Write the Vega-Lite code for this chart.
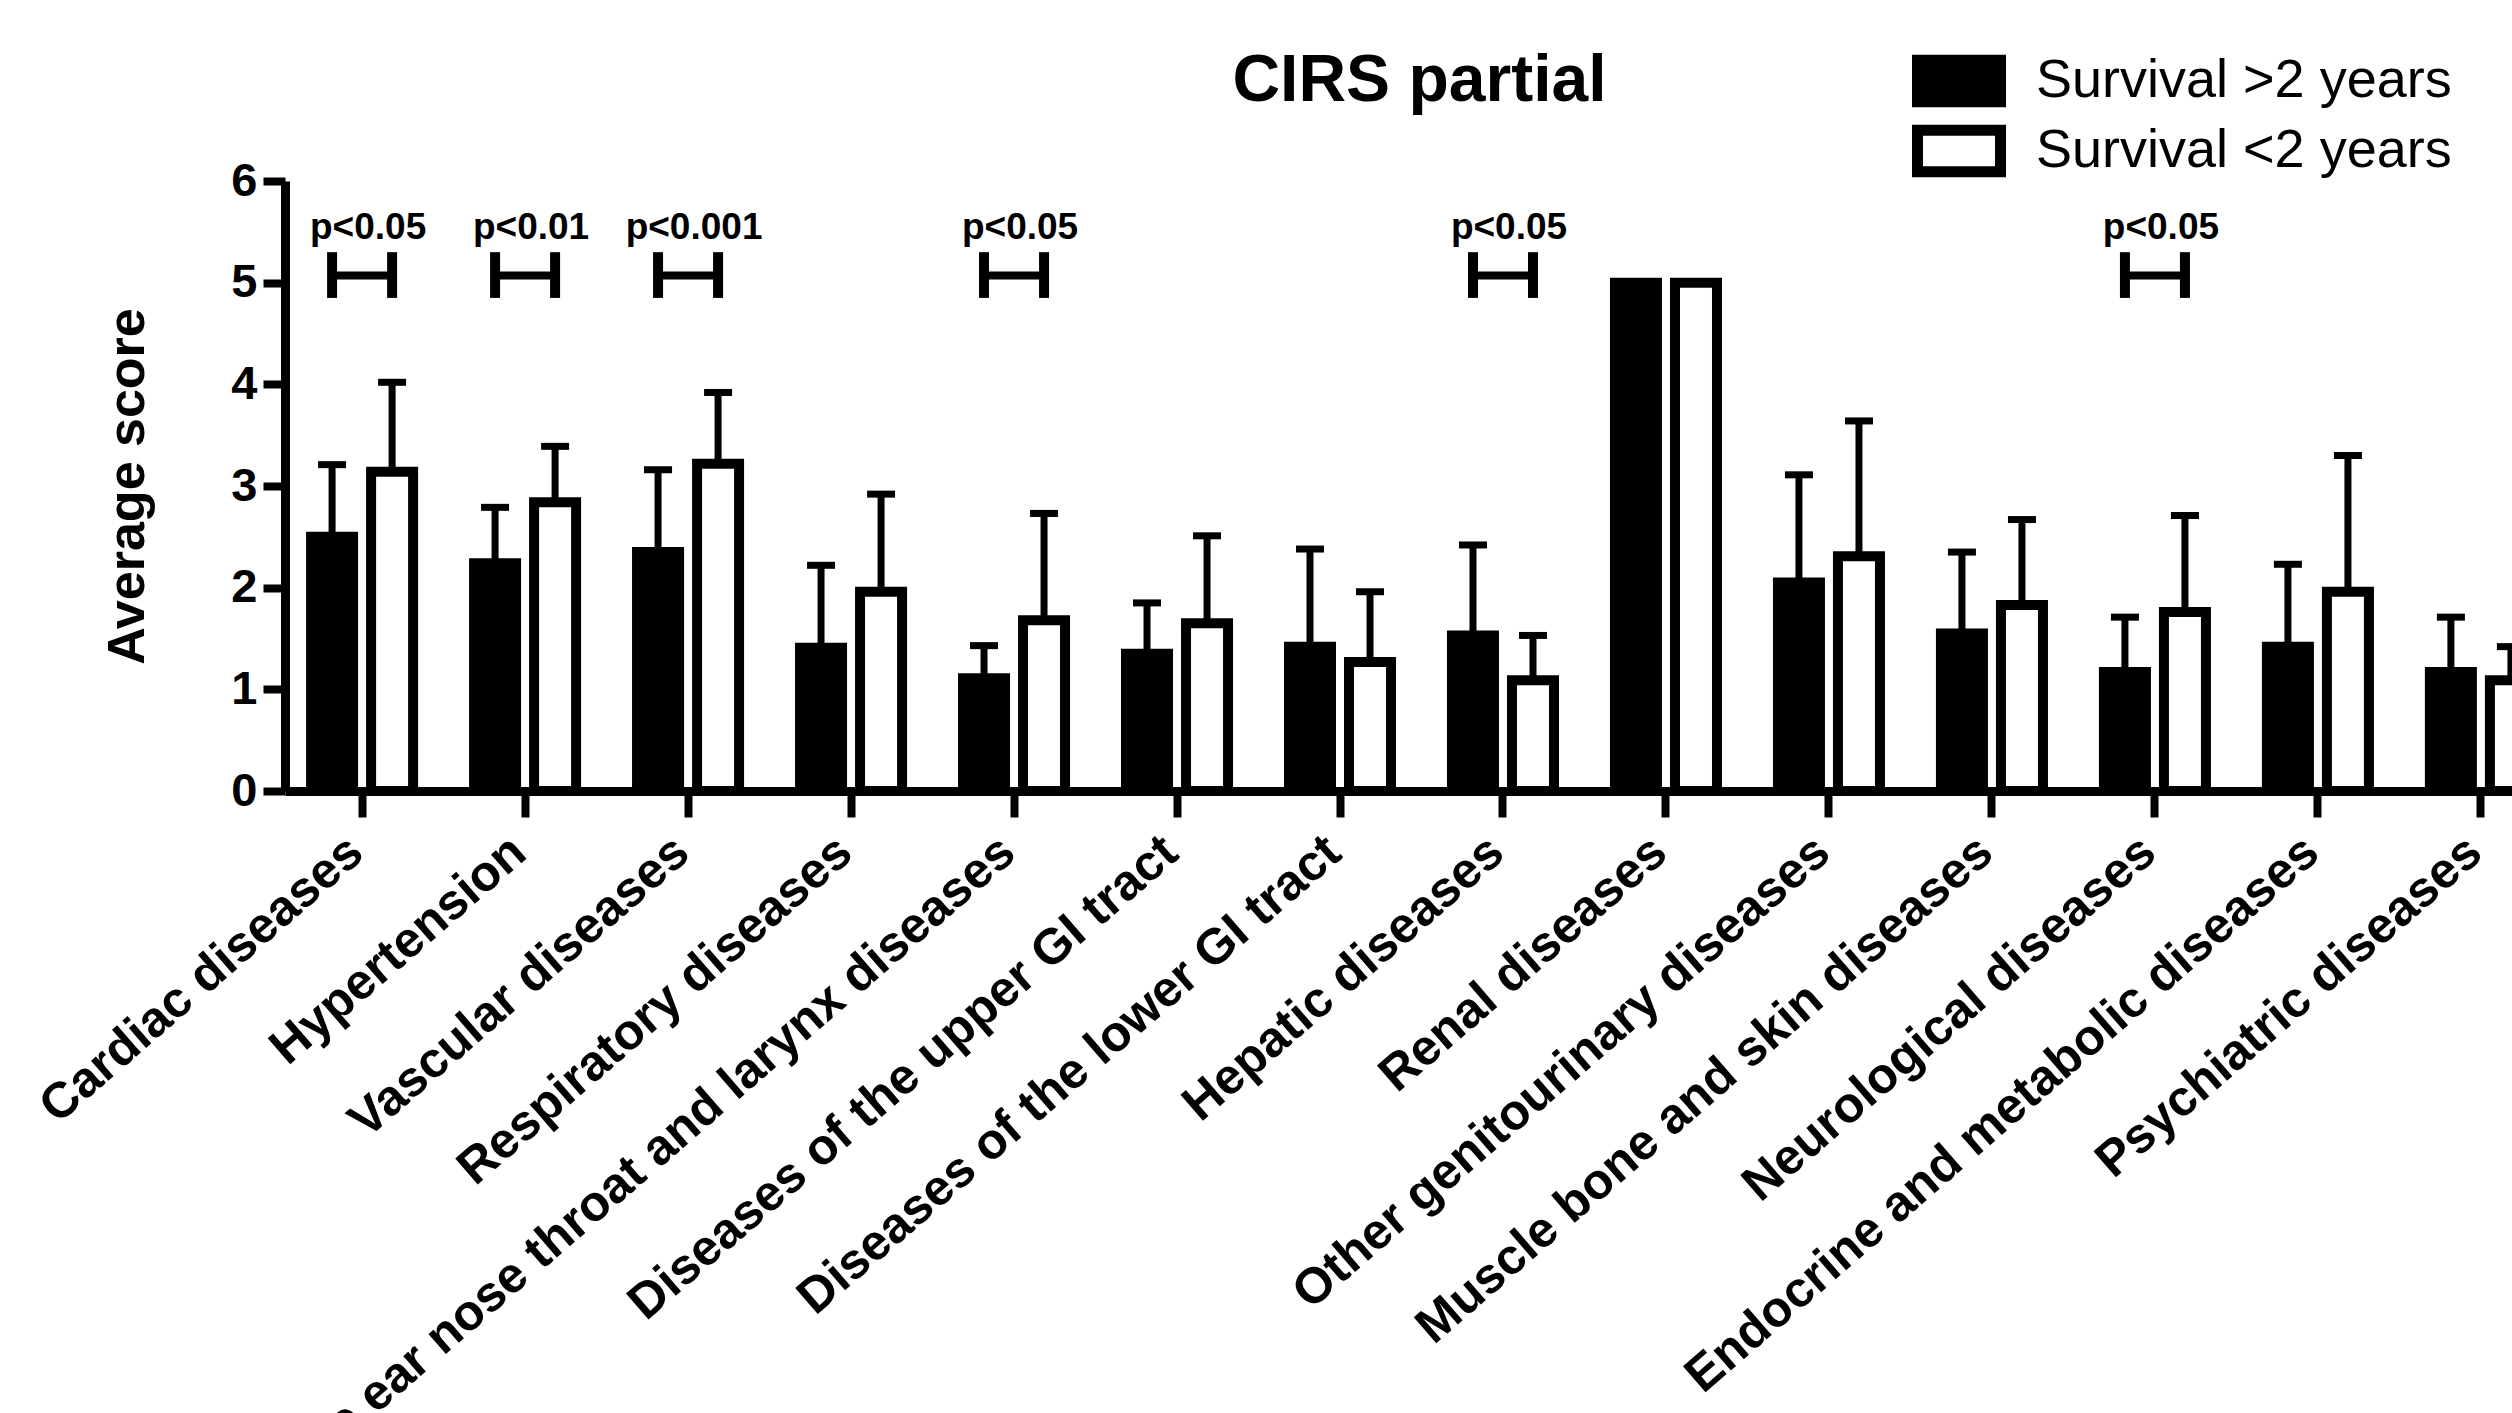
{
  "$schema": "https://vega.github.io/schema/vega-lite/v6.json",
  "autosize": {"type": "none"},
  "padding": {"left": 285, "top": 181, "right": 0, "bottom": 622},
  "width": 2227,
  "height": 610,
  "background": "white",
  "config": {
    "font": "Liberation Sans",
    "view": {"stroke": null},
    "axisX": {
      "title": null,
      "labelAngle": -41,
      "labelAlign": "right",
      "labelBaseline": "middle",
      "labelFontSize": 50,
      "labelFontWeight": "bold",
      "labelColor": "black",
      "labelLimit": 3000,
      "labelOverlap": false,
      "labelPadding": 28,
      "labelOffset": -6,
      "tickSize": 26,
      "tickWidth": 8,
      "tickColor": "black",
      "domainWidth": 9,
      "domainColor": "black",
      "grid": false
    },
    "axisY": {
      "titleFontSize": 52,
      "titleFontWeight": "bold",
      "titleColor": "black",
      "titlePadding": 76,
      "labelFontSize": 47,
      "labelFontWeight": "bold",
      "labelColor": "black",
      "labelPadding": 6,
      "tickSize": 22,
      "tickWidth": 8,
      "tickColor": "black",
      "domainWidth": 9,
      "domainColor": "black",
      "grid": false
    }
  },
  "title": {"text": "CIRS partial", "fontSize": 66, "fontWeight": "bold", "frame": "group", "anchor": "middle", "offset": -61, "dx": 21, "color": "black"},
  "datasets": {
    "bars": [
      {"cat": "Cardiac diseases", "group": "Survival >2 years", "mean": 2.50, "upper": 3.21},
      {"cat": "Cardiac diseases", "group": "Survival <2 years", "mean": 3.14, "upper": 4.02},
      {"cat": "Hypertension", "group": "Survival >2 years", "mean": 2.24, "upper": 2.79},
      {"cat": "Hypertension", "group": "Survival <2 years", "mean": 2.84, "upper": 3.39},
      {"cat": "Vascular diseases", "group": "Survival >2 years", "mean": 2.35, "upper": 3.16},
      {"cat": "Vascular diseases", "group": "Survival <2 years", "mean": 3.22, "upper": 3.92},
      {"cat": "Respiratory diseases", "group": "Survival >2 years", "mean": 1.41, "upper": 2.22},
      {"cat": "Respiratory diseases", "group": "Survival <2 years", "mean": 1.96, "upper": 2.92},
      {"cat": "Eye ear nose throat and larynx diseases", "group": "Survival >2 years", "mean": 1.11, "upper": 1.43},
      {"cat": "Eye ear nose throat and larynx diseases", "group": "Survival <2 years", "mean": 1.68, "upper": 2.73},
      {"cat": "Diseases of the upper GI tract", "group": "Survival >2 years", "mean": 1.35, "upper": 1.85},
      {"cat": "Diseases of the upper GI tract", "group": "Survival <2 years", "mean": 1.65, "upper": 2.51},
      {"cat": "Diseases of the lower GI tract", "group": "Survival >2 years", "mean": 1.42, "upper": 2.38},
      {"cat": "Diseases of the lower GI tract", "group": "Survival <2 years", "mean": 1.27, "upper": 1.96},
      {"cat": "Hepatic diseases", "group": "Survival >2 years", "mean": 1.53, "upper": 2.42},
      {"cat": "Hepatic diseases", "group": "Survival <2 years", "mean": 1.09, "upper": 1.53},
      {"cat": "Renal diseases", "group": "Survival >2 years", "mean": 5.0, "upper": null},
      {"cat": "Renal diseases", "group": "Survival <2 years", "mean": 5.0, "upper": null},
      {"cat": "Other genitourinary diseases", "group": "Survival >2 years", "mean": 2.05, "upper": 3.11},
      {"cat": "Other genitourinary diseases", "group": "Survival <2 years", "mean": 2.31, "upper": 3.64},
      {"cat": "Muscle bone and skin diseases", "group": "Survival >2 years", "mean": 1.55, "upper": 2.35},
      {"cat": "Muscle bone and skin diseases", "group": "Survival <2 years", "mean": 1.83, "upper": 2.67},
      {"cat": "Neurological diseases", "group": "Survival >2 years", "mean": 1.17, "upper": 1.71},
      {"cat": "Neurological diseases", "group": "Survival <2 years", "mean": 1.76, "upper": 2.71},
      {"cat": "Endocrine and metabolic diseases", "group": "Survival >2 years", "mean": 1.42, "upper": 2.23},
      {"cat": "Endocrine and metabolic diseases", "group": "Survival <2 years", "mean": 1.96, "upper": 3.30},
      {"cat": "Psychiatric diseases", "group": "Survival >2 years", "mean": 1.17, "upper": 1.71},
      {"cat": "Psychiatric diseases", "group": "Survival <2 years", "mean": 1.09, "upper": 1.42}
    ],
    "sig": [
      {"cat": "Cardiac diseases", "p": "p<0.05"},
      {"cat": "Hypertension", "p": "p<0.01"},
      {"cat": "Vascular diseases", "p": "p<0.001"},
      {"cat": "Eye ear nose throat and larynx diseases", "p": "p<0.05"},
      {"cat": "Hepatic diseases", "p": "p<0.05"},
      {"cat": "Neurological diseases", "p": "p<0.05"}
    ]
  },
  "data": {"name": "bars"},
  "encoding": {
    "x": {
      "field": "cat",
      "type": "nominal",
      "title": null,
      "scale": {
        "domain": ["Cardiac diseases", "Hypertension", "Vascular diseases", "Respiratory diseases", "Eye ear nose throat and larynx diseases", "Diseases of the upper GI tract", "Diseases of the lower GI tract", "Hepatic diseases", "Renal diseases", "Other genitourinary diseases", "Muscle bone and skin diseases", "Neurological diseases", "Endocrine and metabolic diseases", "Psychiatric diseases"],
        "range": [0, 2273],
        "paddingInner": 0.374,
        "paddingOuter": 0.16
      }
    }
  },
  "layer": [
    {
      "mark": {"type": "bar", "stroke": "black", "strokeWidth": 10},
      "encoding": {
        "xOffset": {"field": "group", "type": "nominal", "scale": {"domain": ["Survival >2 years", "Survival <2 years"], "paddingInner": 0.3}},
        "y": {
          "field": "mean",
          "type": "quantitative",
          "title": "Average score",
          "scale": {"domain": [0, 6], "nice": false},
          "axis": {"values": [0, 1, 2, 3, 4, 5, 6], "format": "d", "title": "Average score"}
        },
        "fill": {
          "field": "group",
          "type": "nominal",
          "scale": {"domain": ["Survival >2 years", "Survival <2 years"], "range": ["black", "white"]},
          "legend": {
            "title": null,
            "orient": "none",
            "legendX": 1647,
            "legendY": -127,
            "padding": 0,
            "symbolType": "M-2,-1H2V1H-2Z",
            "symbolSize": 1722,
            "symbolStrokeColor": "black",
            "symbolStrokeWidth": 11,
            "symbolOpacity": 1,
            "labelFontSize": 54,
            "labelColor": "black",
            "labelLimit": 2000,
            "labelOffset": 50,
            "rowPadding": -16
          }
        }
      }
    },
    {
      "mark": {"type": "rule", "strokeWidth": 7, "color": "black"},
      "encoding": {
        "xOffset": {"field": "group", "type": "nominal", "scale": {"domain": ["Survival >2 years", "Survival <2 years"], "paddingInner": 0.3}},
        "y": {"field": "mean", "type": "quantitative", "title": "Average score"},
        "y2": {"field": "upper"}
      }
    },
    {
      "mark": {"type": "tick", "size": 28, "thickness": 7, "color": "black", "orient": "horizontal", "opacity": 1},
      "encoding": {
        "xOffset": {"field": "group", "type": "nominal", "scale": {"domain": ["Survival >2 years", "Survival <2 years"], "paddingInner": 0.3}},
        "y": {"field": "upper", "type": "quantitative", "title": "Average score"}
      }
    },
    {
      "transform": [
        {"lookup": "cat", "from": {"data": {"name": "sig"}, "key": "cat", "fields": ["p"]}},
        {"filter": "isValid(datum.p)"}
      ],
      "mark": {"type": "rule", "strokeWidth": 10, "color": "black"},
      "encoding": {
        "xOffset": {"field": "group", "type": "nominal", "scale": {"domain": ["Survival >2 years", "Survival <2 years"], "paddingInner": 0.3}},
        "y": {"datum": 4.85, "type": "quantitative", "title": "Average score"},
        "y2": {"datum": 5.3}
      }
    },
    {
      "transform": [
        {"lookup": "cat", "from": {"data": {"name": "sig"}, "key": "cat", "fields": ["p"]}},
        {"filter": "isValid(datum.p)"}
      ],
      "mark": {"type": "line", "strokeWidth": 8, "color": "black", "strokeCap": "butt"},
      "encoding": {
        "xOffset": {"field": "group", "type": "nominal", "scale": {"domain": ["Survival >2 years", "Survival <2 years"], "paddingInner": 0.3}},
        "y": {"datum": 5.07, "type": "quantitative", "title": "Average score"},
        "detail": {"field": "cat"}
      }
    },
    {
      "data": {"name": "sig"},
      "mark": {"type": "text", "fontWeight": "bold", "fontSize": 37, "baseline": "middle", "align": "center", "dx": 6, "color": "black"},
      "encoding": {
        "y": {"datum": 5.54, "type": "quantitative", "title": "Average score"},
        "text": {"field": "p"}
      }
    }
  ]
}
